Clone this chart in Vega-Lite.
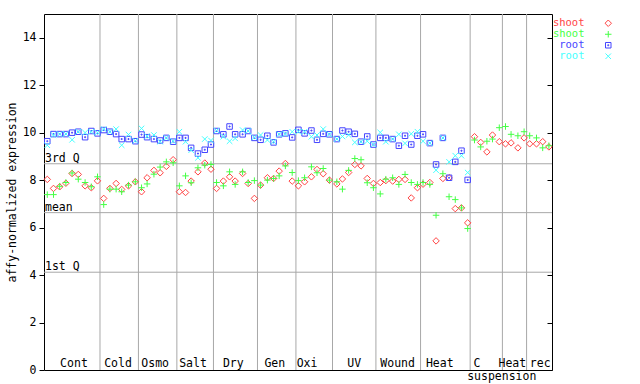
{
  "$schema": "https://vega.github.io/schema/vega-lite/v6.json",
  "autosize": {"type": "none"},
  "padding": {"left": 44, "top": 14, "right": 88, "bottom": 14},
  "width": 508,
  "height": 356,
  "config": {
    "view": {"stroke": "black", "strokeWidth": 1},
    "font": "DejaVu Sans Mono",
    "axis": {
      "labelFont": "DejaVu Sans Mono", "labelFontSize": 11.5, "labelColor": "black",
      "titleFont": "DejaVu Sans Mono", "titleFontSize": 11.5, "titleFontWeight": "normal", "titleColor": "black",
      "tickColor": "black", "domain": false, "grid": false
    },
    "text": {"font": "DejaVu Sans Mono", "fontSize": 11.5, "color": "black"}
  },
  "datasets": {
    "expr": [
      {"pos":0,"series":"shoot1","value":8.03},{"pos":1,"series":"shoot1","value":7.65},{"pos":2,"series":"shoot1","value":7.72},{"pos":3,"series":"shoot1","value":7.87},{"pos":4,"series":"shoot1","value":8.28},{"pos":5,"series":"shoot1","value":8.24},{"pos":6.1,"series":"shoot1","value":7.76},{"pos":7.1,"series":"shoot1","value":7.68},{"pos":8.1,"series":"shoot1","value":7.97},
      {"pos":9.1,"series":"shoot1","value":7.23},{"pos":10.1,"series":"shoot1","value":7.65},{"pos":11.1,"series":"shoot1","value":7.86},{"pos":12,"series":"shoot1","value":7.61},{"pos":13.1,"series":"shoot1","value":7.76},{"pos":14.2,"series":"shoot1","value":7.93},
      {"pos":15.2,"series":"shoot1","value":7.51},{"pos":16.1,"series":"shoot1","value":8.10},{"pos":17.2,"series":"shoot1","value":8.41},{"pos":18.2,"series":"shoot1","value":8.31},{"pos":19.2,"series":"shoot1","value":8.58},{"pos":20.3,"series":"shoot1","value":8.86},
      {"pos":21.3,"series":"shoot1","value":7.51},{"pos":22.3,"series":"shoot1","value":7.48},{"pos":23.2,"series":"shoot1","value":7.96},{"pos":24.3,"series":"shoot1","value":8.35},{"pos":25.4,"series":"shoot1","value":8.72},{"pos":26.4,"series":"shoot1","value":8.46},
      {"pos":27.3,"series":"shoot1","value":7.65},{"pos":28.4,"series":"shoot1","value":7.96},{"pos":29.4,"series":"shoot1","value":8.14},{"pos":30.3,"series":"shoot1","value":7.96},{"pos":31.5,"series":"shoot1","value":8.28},{"pos":32.4,"series":"shoot1","value":7.86},{"pos":33.4,"series":"shoot1","value":7.23},
      {"pos":34.4,"series":"shoot1","value":7.79},{"pos":35.5,"series":"shoot1","value":8.10},{"pos":36.5,"series":"shoot1","value":8.07},{"pos":37.4,"series":"shoot1","value":8.38},{"pos":38.4,"series":"shoot1","value":8.70},{"pos":39.5,"series":"shoot1","value":7.96},
      {"pos":40.5,"series":"shoot1","value":7.76},{"pos":41.5,"series":"shoot1","value":7.93},{"pos":42.6,"series":"shoot1","value":8.14},{"pos":43.5,"series":"shoot1","value":8.45},{"pos":44.5,"series":"shoot1","value":8.27},{"pos":45.5,"series":"shoot1","value":8.00},
      {"pos":46.7,"series":"shoot1","value":7.84},{"pos":47.6,"series":"shoot1","value":8.05},{"pos":48.6,"series":"shoot1","value":8.32},{"pos":49.6,"series":"shoot1","value":8.66},{"pos":50.6,"series":"shoot1","value":8.60},{"pos":51.6,"series":"shoot1","value":8.07},{"pos":52.6,"series":"shoot1","value":7.86},
      {"pos":53.7,"series":"shoot1","value":7.90},{"pos":54.6,"series":"shoot1","value":7.98},{"pos":55.7,"series":"shoot1","value":7.96},{"pos":56.7,"series":"shoot1","value":8.03},{"pos":57.7,"series":"shoot1","value":8.03},{"pos":58.7,"series":"shoot1","value":7.25},{"pos":59.7,"series":"shoot1","value":7.68},
      {"pos":60.6,"series":"shoot1","value":7.83},{"pos":61.7,"series":"shoot1","value":7.90},{"pos":62.7,"series":"shoot1","value":5.44},{"pos":63.8,"series":"shoot1","value":8.07},{"pos":64.8,"series":"shoot1","value":8.10},{"pos":65.8,"series":"shoot1","value":6.80},{"pos":66.8,"series":"shoot1","value":6.83},{"pos":67.8,"series":"shoot1","value":6.20},
      {"pos":68.9,"series":"shoot1","value":9.83},{"pos":69.9,"series":"shoot1","value":9.59},{"pos":70.9,"series":"shoot1","value":9.19},{"pos":71.8,"series":"shoot1","value":9.90},{"pos":72.9,"series":"shoot1","value":9.62},
      {"pos":73.9,"series":"shoot1","value":9.53},{"pos":74.8,"series":"shoot1","value":9.57},{"pos":75.9,"series":"shoot1","value":9.36},{"pos":76.9,"series":"shoot1","value":9.78},
      {"pos":77.8,"series":"shoot1","value":9.53},{"pos":78.9,"series":"shoot1","value":9.53},{"pos":79.9,"series":"shoot1","value":9.62},{"pos":80.9,"series":"shoot1","value":9.40},

      {"pos":0,"series":"shoot2","value":7.39},{"pos":1,"series":"shoot2","value":7.39},{"pos":2,"series":"shoot2","value":7.74},{"pos":3,"series":"shoot2","value":7.90},{"pos":4,"series":"shoot2","value":8.30},{"pos":5,"series":"shoot2","value":8.04},{"pos":6.1,"series":"shoot2","value":7.90},{"pos":7.1,"series":"shoot2","value":7.72},{"pos":8.1,"series":"shoot2","value":8.14},
      {"pos":9.1,"series":"shoot2","value":6.97},{"pos":10.1,"series":"shoot2","value":7.62},{"pos":11.1,"series":"shoot2","value":7.62},{"pos":12,"series":"shoot2","value":7.51},{"pos":13.1,"series":"shoot2","value":7.79},{"pos":14.2,"series":"shoot2","value":7.93},
      {"pos":15.2,"series":"shoot2","value":7.68},{"pos":16.1,"series":"shoot2","value":7.84},{"pos":17.2,"series":"shoot2","value":8.25},{"pos":18.2,"series":"shoot2","value":8.55},{"pos":19.2,"series":"shoot2","value":8.77},{"pos":20.3,"series":"shoot2","value":8.73},
      {"pos":21.3,"series":"shoot2","value":7.76},{"pos":22.3,"series":"shoot2","value":8.18},{"pos":23.2,"series":"shoot2","value":7.89},{"pos":24.3,"series":"shoot2","value":8.52},{"pos":25.4,"series":"shoot2","value":8.63},{"pos":26.4,"series":"shoot2","value":8.66},
      {"pos":27.3,"series":"shoot2","value":7.90},{"pos":28.4,"series":"shoot2","value":7.76},{"pos":29.4,"series":"shoot2","value":8.35},{"pos":30.3,"series":"shoot2","value":7.82},{"pos":31.5,"series":"shoot2","value":8.35},{"pos":32.4,"series":"shoot2","value":7.90},{"pos":33.4,"series":"shoot2","value":7.98},
      {"pos":34.4,"series":"shoot2","value":7.79},{"pos":35.5,"series":"shoot2","value":8.00},{"pos":36.5,"series":"shoot2","value":8.07},{"pos":37.4,"series":"shoot2","value":8.18},{"pos":38.4,"series":"shoot2","value":8.60},{"pos":39.5,"series":"shoot2","value":8.32},
      {"pos":40.5,"series":"shoot2","value":7.98},{"pos":41.5,"series":"shoot2","value":8.10},{"pos":42.6,"series":"shoot2","value":8.56},{"pos":43.5,"series":"shoot2","value":8.31},{"pos":44.5,"series":"shoot2","value":8.49},{"pos":45.5,"series":"shoot2","value":8.00},
      {"pos":46.7,"series":"shoot2","value":7.93},{"pos":47.6,"series":"shoot2","value":7.62},{"pos":48.6,"series":"shoot2","value":8.41},{"pos":49.6,"series":"shoot2","value":8.91},{"pos":50.6,"series":"shoot2","value":8.86},{"pos":51.6,"series":"shoot2","value":7.89},{"pos":52.6,"series":"shoot2","value":7.68},
      {"pos":53.7,"series":"shoot2","value":7.42},{"pos":54.6,"series":"shoot2","value":8.04},{"pos":55.7,"series":"shoot2","value":8.10},{"pos":56.7,"series":"shoot2","value":7.82},{"pos":57.7,"series":"shoot2","value":8.24},{"pos":58.7,"series":"shoot2","value":7.90},{"pos":59.7,"series":"shoot2","value":7.82},
      {"pos":60.6,"series":"shoot2","value":7.90},{"pos":61.7,"series":"shoot2","value":7.82},{"pos":62.7,"series":"shoot2","value":6.52},{"pos":63.8,"series":"shoot2","value":8.27},{"pos":64.8,"series":"shoot2","value":7.30},{"pos":65.8,"series":"shoot2","value":7.18},{"pos":66.8,"series":"shoot2","value":6.83},{"pos":67.8,"series":"shoot2","value":5.96},
      {"pos":68.9,"series":"shoot2","value":9.69},{"pos":69.9,"series":"shoot2","value":9.40},{"pos":70.9,"series":"shoot2","value":9.64},{"pos":71.8,"series":"shoot2","value":9.73},{"pos":72.9,"series":"shoot2","value":10.21},
      {"pos":73.9,"series":"shoot2","value":10.26},{"pos":74.8,"series":"shoot2","value":9.93},{"pos":75.9,"series":"shoot2","value":9.87},{"pos":76.9,"series":"shoot2","value":10.04},
      {"pos":77.8,"series":"shoot2","value":9.87},{"pos":78.9,"series":"shoot2","value":9.78},{"pos":79.9,"series":"shoot2","value":9.36},{"pos":80.9,"series":"shoot2","value":9.45},

      {"pos":0,"series":"root1","value":9.64},{"pos":1,"series":"root1","value":9.94},{"pos":2,"series":"root1","value":9.94},{"pos":3,"series":"root1","value":9.94},{"pos":4,"series":"root1","value":10.00},{"pos":5,"series":"root1","value":10.04},{"pos":6.1,"series":"root1","value":9.81},{"pos":7.1,"series":"root1","value":10.07},{"pos":8.1,"series":"root1","value":9.97},
      {"pos":9.1,"series":"root1","value":10.11},{"pos":10.1,"series":"root1","value":10.04},{"pos":11.1,"series":"root1","value":9.94},{"pos":12,"series":"root1","value":9.73},{"pos":13.1,"series":"root1","value":9.73},{"pos":14.2,"series":"root1","value":9.64},
      {"pos":15.2,"series":"root1","value":9.92},{"pos":16.1,"series":"root1","value":9.81},{"pos":17.2,"series":"root1","value":9.73},{"pos":18.2,"series":"root1","value":9.67},{"pos":19.2,"series":"root1","value":9.78},{"pos":20.3,"series":"root1","value":9.62},
      {"pos":21.3,"series":"root1","value":9.78},{"pos":22.3,"series":"root1","value":9.78},{"pos":23.2,"series":"root1","value":9.36},{"pos":24.3,"series":"root1","value":9.12},{"pos":25.4,"series":"root1","value":9.28},{"pos":26.4,"series":"root1","value":9.50},
      {"pos":27.3,"series":"root1","value":10.07},{"pos":28.4,"series":"root1","value":9.93},{"pos":29.4,"series":"root1","value":10.26},{"pos":30.3,"series":"root1","value":9.93},{"pos":31.5,"series":"root1","value":9.93},{"pos":32.4,"series":"root1","value":10.07},{"pos":33.4,"series":"root1","value":9.78},
      {"pos":34.4,"series":"root1","value":9.70},{"pos":35.5,"series":"root1","value":9.87},{"pos":36.5,"series":"root1","value":9.59},{"pos":37.4,"series":"root1","value":9.93},{"pos":38.4,"series":"root1","value":9.97},{"pos":39.5,"series":"root1","value":9.80},
      {"pos":40.5,"series":"root1","value":10.12},{"pos":41.5,"series":"root1","value":9.97},{"pos":42.6,"series":"root1","value":10.09},{"pos":43.5,"series":"root1","value":9.70},{"pos":44.5,"series":"root1","value":9.95},{"pos":45.5,"series":"root1","value":9.93},
      {"pos":46.7,"series":"root1","value":9.73},{"pos":47.6,"series":"root1","value":10.09},{"pos":48.6,"series":"root1","value":10.04},{"pos":49.6,"series":"root1","value":9.95},{"pos":50.6,"series":"root1","value":9.62},{"pos":51.6,"series":"root1","value":9.84},{"pos":52.6,"series":"root1","value":9.50},
      {"pos":53.7,"series":"root1","value":9.78},{"pos":54.6,"series":"root1","value":9.78},{"pos":55.7,"series":"root1","value":9.73},{"pos":56.7,"series":"root1","value":9.45},{"pos":57.7,"series":"root1","value":9.87},{"pos":58.7,"series":"root1","value":9.50},{"pos":59.7,"series":"root1","value":9.87},
      {"pos":60.6,"series":"root1","value":9.93},{"pos":61.7,"series":"root1","value":9.56},{"pos":62.7,"series":"root1","value":8.66},{"pos":63.8,"series":"root1","value":9.78},{"pos":64.8,"series":"root1","value":8.10},{"pos":65.8,"series":"root1","value":8.77},{"pos":66.8,"series":"root1","value":9.24},{"pos":67.8,"series":"root1","value":8.01},

      {"pos":0,"series":"root2","value":9.47},{"pos":1,"series":"root2","value":9.90},{"pos":2,"series":"root2","value":9.94},{"pos":3,"series":"root2","value":9.95},{"pos":4,"series":"root2","value":9.70},{"pos":5,"series":"root2","value":10.04},{"pos":6.1,"series":"root2","value":10.00},{"pos":7.1,"series":"root2","value":10.04},{"pos":8.1,"series":"root2","value":10.00},
      {"pos":9.1,"series":"root2","value":10.15},{"pos":10.1,"series":"root2","value":10.04},{"pos":11.1,"series":"root2","value":10.15},{"pos":12,"series":"root2","value":9.47},{"pos":13.1,"series":"root2","value":9.92},{"pos":14.2,"series":"root2","value":9.66},
      {"pos":15.2,"series":"root2","value":10.18},{"pos":16.1,"series":"root2","value":9.85},{"pos":17.2,"series":"root2","value":9.90},{"pos":18.2,"series":"root2","value":9.62},{"pos":19.2,"series":"root2","value":9.78},{"pos":20.3,"series":"root2","value":9.64},
      {"pos":21.3,"series":"root2","value":10.04},{"pos":22.3,"series":"root2","value":9.62},{"pos":23.2,"series":"root2","value":9.26},{"pos":24.3,"series":"root2","value":8.94},{"pos":25.4,"series":"root2","value":9.73},{"pos":26.4,"series":"root2","value":9.67},
      {"pos":27.3,"series":"root2","value":10.09},{"pos":28.4,"series":"root2","value":9.83},{"pos":29.4,"series":"root2","value":9.64},{"pos":30.3,"series":"root2","value":9.76},{"pos":31.5,"series":"root2","value":10.11},{"pos":32.4,"series":"root2","value":10.07},{"pos":33.4,"series":"root2","value":9.80},
      {"pos":34.4,"series":"root2","value":9.90},{"pos":35.5,"series":"root2","value":9.69},{"pos":36.5,"series":"root2","value":9.62},{"pos":37.4,"series":"root2","value":9.93},{"pos":38.4,"series":"root2","value":9.95},{"pos":39.5,"series":"root2","value":10.04},
      {"pos":40.5,"series":"root2","value":10.04},{"pos":41.5,"series":"root2","value":10.04},{"pos":42.6,"series":"root2","value":9.83},{"pos":43.5,"series":"root2","value":9.90},{"pos":44.5,"series":"root2","value":10.15},{"pos":45.5,"series":"root2","value":9.93},
      {"pos":46.7,"series":"root2","value":9.73},{"pos":47.6,"series":"root2","value":9.84},{"pos":48.6,"series":"root2","value":9.90},{"pos":49.6,"series":"root2","value":9.59},{"pos":50.6,"series":"root2","value":9.62},{"pos":51.6,"series":"root2","value":9.64},{"pos":52.6,"series":"root2","value":9.50},
      {"pos":53.7,"series":"root2","value":10.01},{"pos":54.6,"series":"root2","value":9.62},{"pos":55.7,"series":"root2","value":9.73},{"pos":56.7,"series":"root2","value":9.93},{"pos":57.7,"series":"root2","value":9.55},{"pos":58.7,"series":"root2","value":9.95},{"pos":59.7,"series":"root2","value":10.04},
      {"pos":60.6,"series":"root2","value":9.64},{"pos":61.7,"series":"root2","value":9.56},{"pos":62.7,"series":"root2","value":8.42},{"pos":63.8,"series":"root2","value":9.78},{"pos":64.8,"series":"root2","value":8.77},{"pos":65.8,"series":"root2","value":9.03},{"pos":66.8,"series":"root2","value":9.03},{"pos":67.8,"series":"root2","value":8.32}
    ],
    "bounds": [
      {"pos":8.5},{"pos":14.7},{"pos":20.9},{"pos":26.8},{"pos":33.9},{"pos":40.1},{"pos":46.0},{"pos":53.0},{"pos":60.2},{"pos":68.2},{"pos":73.4},{"pos":77.3}
    ],
    "quart": [
      {"label":"3rd Q","value":8.69},{"label":"mean","value":6.63},{"label":"1st Q","value":4.12}
    ],
    "groups": [
      {"label":"Cont","pos":4.3},{"label":"Cold","pos":11.4},{"label":"Osmo","pos":17.4},{"label":"Salt","pos":23.5},{"label":"Dry","pos":30.0},{"label":"Gen","pos":36.7},{"label":"Oxi","pos":41.9},{"label":"UV","pos":49.5},{"label":"Wound","pos":56.5},{"label":"Heat","pos":63.3},{"label":"C","pos":69.3},{"label":"Heat","pos":75.0},{"label":"rec","pos":79.5}
    ]
  },
  "layer": [
    {
      "data": {"name": "bounds"},
      "mark": {"type": "rule", "color": "#a8a8a8", "strokeWidth": 1},
      "encoding": {
        "x": {"field": "pos", "type": "quantitative", "axis": null, "scale": {"domain": [-0.53, 81.4], "nice": false, "zero": false}}
      }
    },
    {
      "data": {"name": "quart"},
      "mark": {"type": "rule", "color": "#a8a8a8", "strokeWidth": 1},
      "encoding": {
        "y": {"field": "value", "type": "quantitative", "scale": {"domain": [0, 15], "nice": false, "zero": false},
              "axis": {"orient": "right", "labels": false, "tickSize": -5, "values": [0,2,4,6,8,10,12,14], "title": null}}
      }
    },
    {
      "data": {"name": "quart"},
      "mark": {"type": "text", "align": "left", "baseline": "alphabetic", "dx": 1, "dy": -2},
      "encoding": {
        "x": {"datum": -0.53, "type": "quantitative", "axis": null},
        "y": {"field": "value", "type": "quantitative", "axis": null},
        "text": {"field": "label"}
      }
    },
    {
      "data": {"name": "groups"},
      "mark": {"type": "text", "align": "center", "baseline": "alphabetic"},
      "encoding": {
        "x": {"field": "pos", "type": "quantitative", "axis": null},
        "y": {"datum": 0.13, "type": "quantitative", "axis": null},
        "text": {"field": "label"}
      }
    },
    {
      "data": {"values": [{"label": "suspension", "pos": 73.3}]},
      "mark": {"type": "text", "align": "center", "baseline": "alphabetic"},
      "encoding": {
        "x": {"field": "pos", "type": "quantitative", "axis": null},
        "y": {"datum": -0.44, "type": "quantitative", "axis": null},
        "text": {"field": "label"}
      }
    },
    {
      "data": {"name": "expr"},
      "mark": {"type": "point", "filled": false, "strokeWidth": 1, "size": 42, "opacity": 1},
      "encoding": {
        "x": {"field": "pos", "type": "quantitative", "axis": null},
        "y": {"field": "value", "type": "quantitative",
              "axis": {"orient": "left", "title": "affy-normalized expression", "values": [0,2,4,6,8,10,12,14], "tickSize": 5, "labelPadding": 3, "titlePadding": 5}},
        "color": {"field": "series", "type": "nominal",
          "scale": {"domain": ["shoot1", "shoot2", "root1", "root2"], "range": ["#ff4444", "#44ff44", "#4444ff", "#44ffff"]},
          "legend": {
            "orient": "none", "legendX": 559, "legendY": 4, "title": null, "padding": 0,
            "direction": "vertical", "rowPadding": 0,
            "labelExpr": "slice(datum.label, 0, -1)",
            "labelFont": "DejaVu Sans Mono", "labelFontSize": 10.5, "labelAlign": "right", "labelOffset": -29,
            "labelColor": {"expr": "scale('color', datum.value)"},
            "symbolStrokeWidth": 1, "symbolSize": 42
          }
        },
        "shape": {"field": "series", "type": "nominal",
          "scale": {"domain": ["shoot1", "shoot2", "root1", "root2"],
                    "range": ["M0,-1L1,0L0,1L-1,0Z", "M-1,0L1,0M0,-1L0,1", "M-0.85,-0.85L0.85,-0.85L0.85,0.85L-0.85,0.85ZM-0.15,-0.15L0.15,-0.15L0.15,0.15L-0.15,0.15Z", "M-0.85,-0.85L0.85,0.85M-0.85,0.85L0.85,-0.85"]}
        }
      }
    }
  ],
  "resolve": {"axis": {"y": "independent"}}
}
